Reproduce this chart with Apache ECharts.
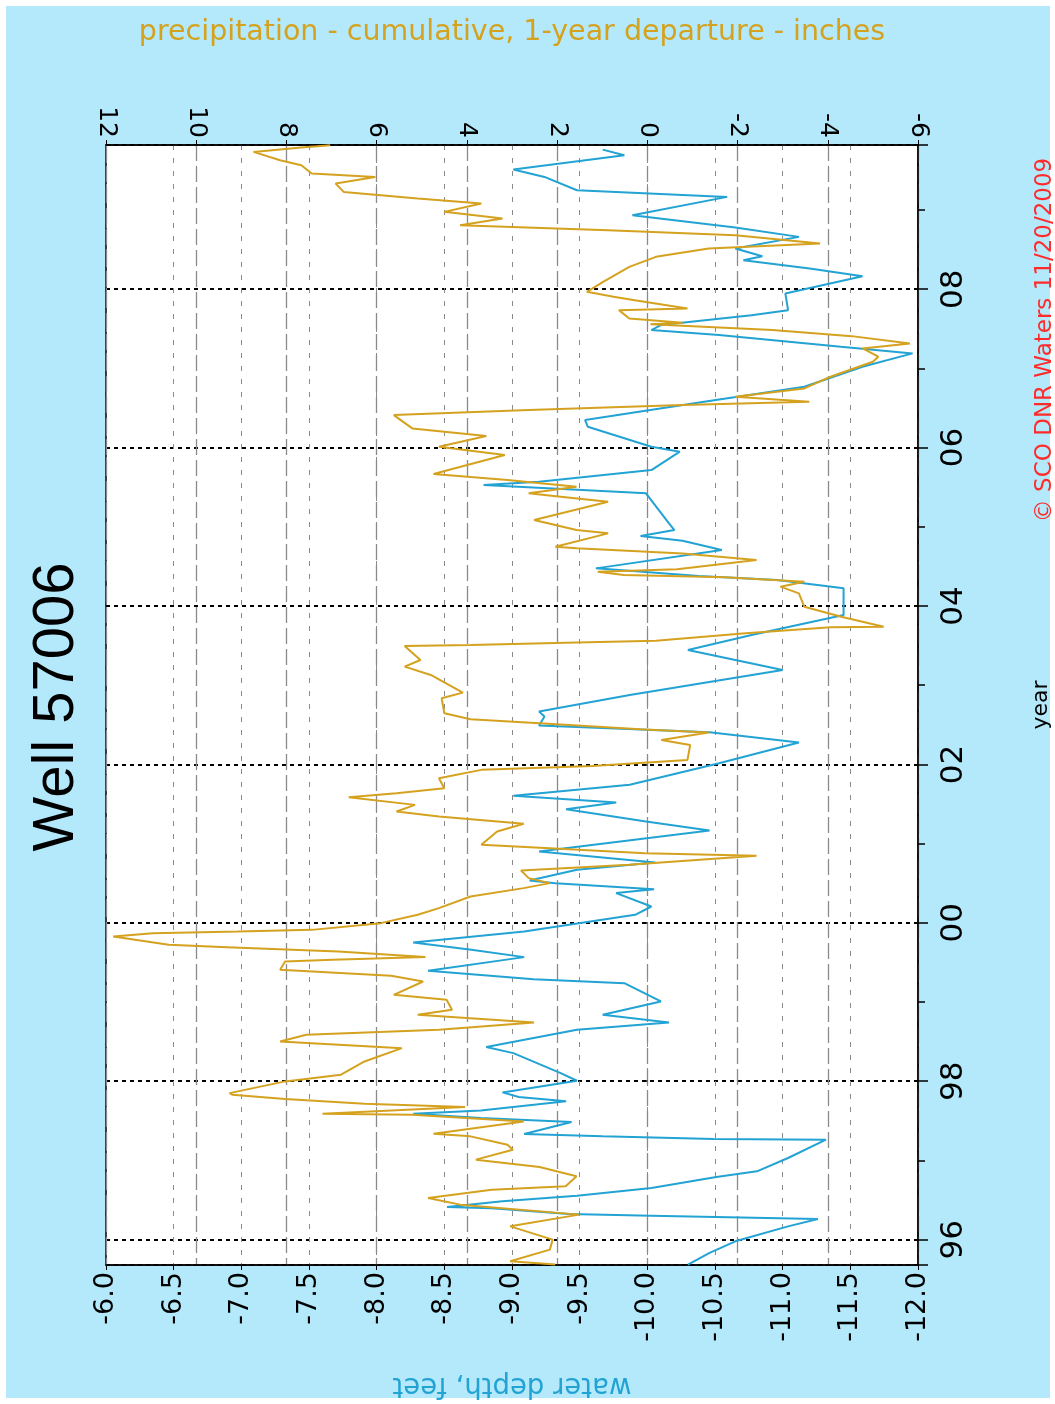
<!DOCTYPE html>
<html><head><meta charset="utf-8">
<script src="https://cdn.jsdelivr.net/npm/echarts/dist/echarts.min.js"></script>
<style>
html,body{margin:0;padding:0;background:#fff;overflow:hidden}
#c{position:absolute;left:0;top:0;width:1055px;height:1404px;
background:linear-gradient(#b3e9fb,#b3e9fb) 6px 6px / 1044px 1392px no-repeat,#fff}
</style>
</head><body><div id="c"></div>
<script>
// ---- data ----
const yearTickValues = [1996, 1998, 2000, 2002, 2004, 2006, 2008];
const yearTickLabels = ['96', '98', '00', '02', '04', '06', '08'];

const depthYears = [1995.685,1995.832,1995.979,1996.168,1996.261,1996.303,1996.324,1996.396,1996.412,1996.484,1996.555,1996.652,1996.791,1996.863,1997.031,1997.262,1997.271,1997.304,1997.334,1997.485,1997.535,1997.590,1997.632,1997.746,1997.800,1997.859,1998.006,1998.103,1998.355,1998.431,1998.650,1998.742,1998.839,1999.007,1999.238,1999.289,1999.394,1999.567,1999.659,1999.752,1999.890,2000.101,2000.206,2000.375,2000.425,2000.501,2000.534,2000.669,2000.762,2000.900,2001.165,2001.279,2001.434,2001.519,2001.603,2001.742,2002.015,2002.276,2002.406,2002.490,2002.604,2002.667,2002.877,2003.192,2003.445,2003.634,2003.886,2004.223,2004.328,2004.378,2004.475,2004.706,2004.824,2004.883,2004.959,2005.043,2005.422,2005.464,2005.527,2005.569,2005.716,2005.948,2006.011,2006.263,2006.347,2006.579,2006.768,2007.020,2007.189,2007.273,2007.420,2007.483,2007.546,2007.672,2007.735,2007.945,2008.164,2008.261,2008.366,2008.416,2008.513,2008.660,2008.778,2008.934,2009.165,2009.249,2009.417,2009.510,2009.691,2009.762];
const depthFeet = [-10.30,-10.46,-10.65,-11.04,-11.26,-10.03,-9.42,-8.85,-8.52,-8.93,-9.48,-10.03,-10.51,-10.81,-11.04,-11.32,-10.49,-9.67,-9.09,-9.44,-8.77,-8.27,-8.77,-9.40,-9.05,-8.93,-9.48,-9.36,-9.01,-8.81,-9.48,-10.16,-9.67,-10.10,-9.83,-9.16,-8.38,-9.09,-8.70,-8.27,-9.09,-9.91,-10.03,-9.77,-10.05,-9.32,-9.13,-9.48,-10.06,-9.20,-10.46,-9.99,-9.40,-9.77,-9.01,-9.87,-10.53,-11.12,-10.46,-9.20,-9.24,-9.20,-9.87,-11.00,-10.30,-10.77,-11.45,-11.45,-10.96,-10.38,-9.62,-10.55,-10.26,-9.95,-10.20,-10.16,-9.99,-9.52,-8.79,-9.20,-10.03,-10.24,-10.03,-9.56,-9.54,-10.42,-11.16,-11.59,-11.96,-11.43,-10.53,-10.03,-10.10,-10.77,-11.04,-11.02,-11.59,-11.20,-10.71,-10.85,-10.65,-11.12,-10.65,-9.89,-10.59,-9.48,-9.24,-9.01,-9.83,-9.67];

const precipYears = [1995.685,1995.727,1995.874,1996.000,1996.168,1996.316,1996.442,1996.526,1996.631,1996.673,1996.800,1996.917,1997.010,1997.136,1997.199,1997.304,1997.338,1997.493,1997.578,1997.590,1997.674,1997.716,1997.775,1997.830,1997.850,1997.998,1998.082,1998.250,1998.418,1998.502,1998.586,1998.650,1998.742,1998.839,1998.902,1999.028,1999.091,1999.259,1999.331,1999.407,1999.512,1999.533,1999.567,1999.638,1999.693,1999.722,1999.827,1999.869,1999.890,1999.911,1999.996,2000.101,2000.185,2000.333,2000.438,2000.501,2000.564,2000.661,2000.732,2000.846,2000.879,2000.942,2000.985,2001.153,2001.250,2001.342,2001.405,2001.489,2001.586,2001.637,2001.700,2001.826,2001.931,2001.981,2002.057,2002.246,2002.309,2002.402,2002.444,2002.520,2002.570,2002.646,2002.835,2002.906,2003.129,2003.234,2003.318,2003.495,2003.508,2003.537,2003.562,2003.655,2003.731,2003.739,2003.865,2003.991,2004.160,2004.244,2004.307,2004.362,2004.391,2004.433,2004.463,2004.580,2004.664,2004.728,2004.749,2004.917,2004.959,2005.085,2005.317,2005.380,2005.422,2005.506,2005.590,2005.666,2005.906,2006.011,2006.145,2006.242,2006.410,2006.474,2006.537,2006.579,2006.642,2006.747,2006.894,2007.083,2007.147,2007.252,2007.315,2007.407,2007.483,2007.558,2007.575,2007.630,2007.735,2007.756,2007.861,2007.903,2007.966,2008.092,2008.282,2008.408,2008.513,2008.576,2008.681,2008.744,2008.807,2008.892,2008.976,2009.081,2009.144,2009.228,2009.333,2009.417,2009.459,2009.565,2009.628,2009.733,2009.787,2009.818];
const precipInches = [2.04,3.04,2.16,2.10,3.04,1.51,4.15,4.86,3.45,1.81,1.57,2.39,3.80,2.98,3.10,3.92,4.74,2.74,5.21,7.20,4.04,6.27,8.03,9.20,9.26,8.03,6.79,6.27,5.44,8.14,7.56,4.62,2.51,5.09,4.33,4.45,5.62,4.97,5.68,8.14,8.03,6.97,4.92,6.85,9.32,10.61,11.84,10.96,9.08,7.44,5.91,5.09,4.62,3.92,2.74,2.16,2.63,2.80,0.40,-2.42,0.05,2.16,3.68,3.33,2.74,4.62,5.56,5.15,6.62,5.56,4.50,4.62,3.68,1.22,-0.89,-0.95,-0.31,-1.36,0.16,2.39,3.92,4.50,4.56,4.09,4.80,5.38,5.03,5.38,3.92,1.81,-0.19,-2.18,-4.06,-5.24,-4.30,-3.48,-3.36,-2.95,-3.48,-1.72,0.52,1.10,-0.66,-2.42,-0.78,1.57,2.04,0.87,1.57,2.51,0.87,1.92,2.63,1.57,3.10,4.74,3.16,4.62,3.57,5.21,5.62,2.63,-0.78,-3.59,-1.95,-3.48,-4.06,-5.00,-5.12,-4.77,-5.82,-4.53,-2.77,-0.07,-0.78,0.40,0.63,-0.89,0.28,0.75,1.34,0.98,0.40,-0.19,-1.36,-3.83,-1.95,0.87,4.15,3.21,4.50,3.68,5.09,6.73,6.91,6.03,7.44,7.67,8.14,8.73,7.67,7.03];

// ---- build ----
const depthData = depthYears.map((y, i) => [depthFeet[i], y]);
const precipData = precipYears.map((y, i) => [precipInches[i], y]);
const FONT = 'DejaVu Sans';
const BLUE = '#22a3d4';
const GOLD = '#d5a21f';
const yearFmt = v => {
  const r = Math.round(v);
  if (Math.abs(v - r) > 1e-6) return '';
  const k = yearTickValues.indexOf(r);
  return k >= 0 ? yearTickLabels[k] : '';
};

const chart = echarts.init(document.getElementById('c'), null, {renderer: 'canvas', width: 1055, height: 1404});
chart.setOption({
  backgroundColor: 'transparent',
  animation: false,
  grid: {left: 106, right: 137, top: 145, bottom: 139, show: true, containLabel: false,
         outerBoundsMode: 'none',
         backgroundColor: '#fff', borderColor: '#000', borderWidth: 1.5},
  xAxis: [{
    type: 'value', position: 'bottom', min: -12, max: -6, interval: 0.5, inverse: true,
    name: 'water depth, feet', nameLocation: 'middle', nameGap: 106, nameRotate: 180,
    nameTextStyle: {color: BLUE, fontSize: 27.5, fontFamily: FONT},
    axisLine: {show: true, onZero: false, lineStyle: {color: '#000', width: 1.5}},
    axisTick: {show: true, length: 5, lineStyle: {color: '#000'}},
    axisLabel: {rotate: 90, margin: 7, color: '#000', fontSize: 27, fontFamily: FONT,
                formatter: v => v.toFixed(1)},
    splitLine: {show: true, lineStyle: {color: '#8a8a8a', width: 1, type: [5, 8]}}
  }, {
    type: 'value', position: 'top', min: -6, max: 12, interval: 2, inverse: true,
    name: 'precipitation - cumulative, 1-year departure - inches', nameLocation: 'middle', nameGap: 98,
    nameTextStyle: {color: GOLD, fontSize: 28.5, fontFamily: FONT},
    axisLine: {show: true, onZero: false, lineStyle: {color: '#000', width: 1.5}},
    axisTick: {show: true, length: 5, lineStyle: {color: '#000'}},
    axisLabel: {rotate: 90, margin: 7, color: '#000', fontSize: 25, fontFamily: FONT},
    splitLine: {show: true, lineStyle: {color: '#8a8a8a', width: 1.3, type: [16, 5]}}
  }],
  yAxis: [{
    type: 'value', position: 'right', min: 1995.68, max: 2009.82, splitNumber: 7, scale: true,
    name: 'year', nameLocation: 'middle', nameGap: 112, nameRotate: 90,
    nameTextStyle: {color: '#000', fontSize: 22, fontFamily: FONT},
    axisLine: {show: true, onZero: false, lineStyle: {color: '#000', width: 1.5}},
    axisTick: {show: true, length: 10, lineStyle: {color: '#000', width: 1.5}},
    minorTick: {show: true, splitNumber: 2, length: 7, lineStyle: {color: '#000', width: 1.5}},
    axisLabel: {rotate: 90, margin: 20, color: '#000', fontSize: 31, fontFamily: FONT, formatter: yearFmt},
    splitLine: {show: true, lineStyle: {color: '#000', width: 2, type: [4, 4]}}
  }, {
    type: 'value', position: 'right', min: 1995.68, max: 2009.82, splitNumber: 7, scale: true,
    axisLine: {show: false},
    axisTick: {show: true, inside: true, length: 4, lineStyle: {color: '#000', width: 1.5}},
    axisLabel: {show: false},
    splitLine: {show: false}
  }],
  graphic: {elements: [
    {type: 'text', x: 57, y: 707, rotation: Math.PI / 2, silent: true,
     style: {text: 'Well 57006', fontSize: 58, fontFamily: 'Liberation Sans', fill: '#000',
             align: 'center', verticalAlign: 'middle'}},
    {type: 'text', x: 1045, y: 340, rotation: Math.PI / 2, silent: true,
     style: {text: '© SCO DNR Waters 11/20/2009', fontSize: 23, fontFamily: FONT, fill: '#ff2a2a',
             align: 'center', verticalAlign: 'middle'}}
  ]},
  series: [{
    type: 'line', name: 'water depth', xAxisIndex: 0, yAxisIndex: 0, data: depthData,
    showSymbol: false, symbol: 'none', clip: true,
    lineStyle: {color: BLUE, width: 2}
  }, {
    type: 'line', name: 'precipitation', xAxisIndex: 1, yAxisIndex: 0, data: precipData,
    showSymbol: false, symbol: 'none', clip: true,
    lineStyle: {color: GOLD, width: 2}
  }]
});
</script>
</body></html>
